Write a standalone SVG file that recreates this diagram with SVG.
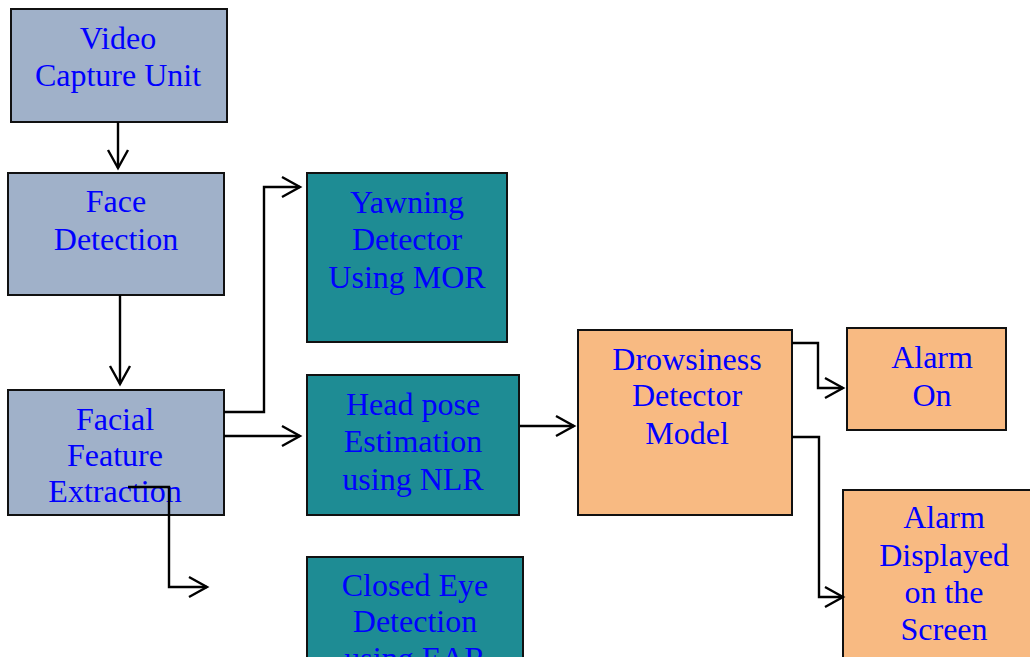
<svg xmlns="http://www.w3.org/2000/svg" width="1030" height="657" viewBox="0 0 1030 657">
<style>
rect{stroke:#111;stroke-width:2}
.g{fill:#A0B1C9}
.t{fill:#1E8C94}
.o{fill:#F8BA82}
text{font-family:"Liberation Serif","Times New Roman",serif;font-size:32px;fill:#0000FF;text-anchor:middle}
.c path{fill:none;stroke:#000;stroke-width:2.4}
</style>
<defs>
<marker id="a" markerWidth="22" markerHeight="26" refX="19" refY="13" orient="auto" markerUnits="userSpaceOnUse">
<path d="M1,3 L19,13 L1,23" fill="none" stroke="#000" stroke-width="2.4"/>
</marker>
</defs>
<rect width="1030" height="657" fill="#fff" style="stroke:none"/>
<g id="video"><rect class="g" x="11" y="9" width="216" height="113"/><text x="118" y="49">Video</text><text x="118" y="86">Capture Unit</text></g>
<g id="face"><rect class="g" x="8" y="173" width="216" height="122"/><text x="116" y="212">Face</text><text x="116" y="250">Detection</text></g>
<g id="facial"><rect class="g" x="8" y="390" width="216" height="125"/><text x="115" y="430">Facial</text><text x="115" y="466">Feature</text><text x="115" y="502">Extraction</text></g>
<g id="yawn"><rect class="t" x="307" y="173" width="200" height="169"/><text x="407" y="213">Yawning</text><text x="407" y="250">Detector</text><text x="407" y="288">Using MOR</text></g>
<g id="head"><rect class="t" x="307" y="375" width="212" height="140"/><text x="413" y="415">Head pose</text><text x="413" y="452">Estimation</text><text x="413" y="490">using NLR</text></g>
<g id="eye"><rect class="t" x="307" y="557" width="216" height="120"/><text x="415" y="596">Closed Eye</text><text x="415" y="632">Detection</text><text x="415" y="669">using EAR</text></g>
<g id="drowsy"><rect class="o" x="578" y="330" width="214" height="185"/><text x="687" y="370">Drowsiness</text><text x="687" y="406">Detector</text><text x="687" y="444">Model</text></g>
<g id="alarmon"><rect class="o" x="847" y="328" width="159" height="102"/><text x="932" y="368">Alarm</text><text x="932" y="406">On</text></g>
<g id="alarmdisp"><rect class="o" x="843" y="490" width="200" height="180"/><text x="944" y="528">Alarm</text><text x="944" y="566">Displayed</text><text x="944" y="603">on the</text><text x="944" y="640">Screen</text></g>
<g class="c" id="connectors">
<path d="M118,122 V168" marker-end="url(#a)"/>
<path d="M120,295 V384" marker-end="url(#a)"/>
<path d="M224,412 H264 V187 H300" marker-end="url(#a)"/>
<path d="M224,436 H300" marker-end="url(#a)"/>
<path d="M128,487 H169 V587 H207" marker-end="url(#a)"/>
<path d="M520,426 H574" marker-end="url(#a)"/>
<path d="M792,343 H818 V388 H843" marker-end="url(#a)"/>
<path d="M792,437 H819 V597 H843" marker-end="url(#a)"/>
</g>
</svg>
